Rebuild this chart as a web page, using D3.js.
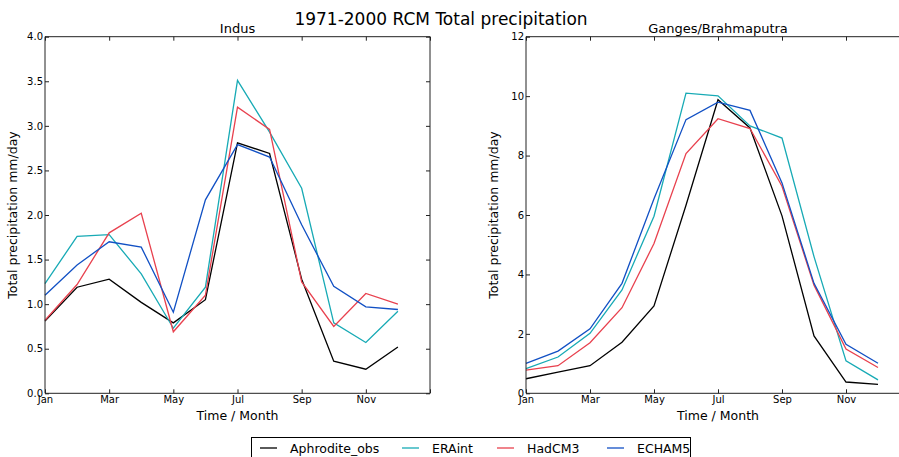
<!DOCTYPE html>
<html>
<head>
<meta charset="utf-8">
<script src="https://cdn.jsdelivr.net/npm/d3@7/dist/d3.min.js"></script>
<style>
  body { margin: 0; background: #fff; }
  svg { display: block; font-family: "DejaVu Sans", sans-serif; }
</style>
</head>
<body>
<div id="chart"></div>
<script>
// month labels (only every second month is labelled on the axis)
const months = ['Jan', 'Feb', 'Mar', 'Apr', 'May', 'Jun', 'Jul', 'Aug', 'Sep', 'Oct', 'Nov', 'Dec'];
const seriesNames = ['Aphrodite_obs', 'ERAint', 'HadCM3', 'ECHAM5'];

// Indus, mm/day
const indusObs    = [0.81, 1.19, 1.28, 1.02, 0.79, 1.05, 2.81, 2.69, 1.28, 0.36, 0.27, 0.52];
const indusERA    = [1.23, 1.76, 1.78, 1.34, 0.73, 1.19, 3.51, 2.93, 2.30, 0.79, 0.57, 0.92];
const indusHadCM3 = [0.82, 1.22, 1.80, 2.02, 0.69, 1.10, 3.21, 2.96, 1.25, 0.75, 1.12, 1.00];
const indusECHAM5 = [1.10, 1.44, 1.70, 1.64, 0.91, 2.17, 2.79, 2.65, 1.89, 1.20, 0.97, 0.94];

// Ganges/Brahmaputra, mm/day
const gangesObs    = [0.49, 0.71, 0.93, 1.72, 2.94, 6.33, 9.88, 8.93, 5.97, 1.93, 0.38, 0.30];
const gangesERA    = [0.83, 1.22, 2.02, 3.48, 5.96, 10.10, 10.01, 9.00, 8.59, 4.60, 1.09, 0.45];
const gangesHadCM3 = [0.78, 0.93, 1.70, 2.88, 5.04, 8.07, 9.24, 8.91, 6.97, 3.64, 1.49, 0.87];
const gangesECHAM5 = [1.01, 1.42, 2.17, 3.70, 6.55, 9.21, 9.80, 9.52, 7.08, 3.70, 1.65, 1.01];

const indusTicks = [0, 0.5, 1, 1.5, 2, 2.5, 3, 3.5, 4];
const gangesTicks = [0, 2, 4, 6, 8, 10, 12];

const colors = ['#000000', '#17aab5', '#e8414e', '#1150c4'];

const width = 899, height = 457;

const svg = d3.select('#chart').append('svg')
  .attr('width', width)
  .attr('height', height);

svg.append('text')
  .attr('x', 441)
  .attr('y', 24.5)
  .attr('text-anchor', 'middle')
  .style('font-size', '17px')
  .text('1971-2000 RCM Total precipitation');

const panel = (cfg) => {
  const x = d3.scaleLinear().domain([0, 12]).range([cfg.left, cfg.right]);
  const y = d3.scaleLinear().domain([0, d3.max(cfg.ticks)]).range([cfg.bottom, cfg.top]);
  const g = svg.append('g');

  // the lines first, axes frame on top
  const line = d3.line()
    .x((d, i) => x(i))
    .y(d => y(d));

  cfg.series.forEach((s, i) => {
    g.append('path')
      .datum(s)
      .attr('d', line)
      .attr('fill', 'none')
      .attr('stroke', colors[i])
      .attr('stroke-width', 1.3)
      .attr('stroke-linejoin', 'miter');
  });

  const tickLen = 4;
  const xTicks = d3.range(0, 13, 2);

  // bottom and top axes, ticks pointing inward
  const bottom = g.append('g')
    .attr('transform', `translate(0,${cfg.bottom})`)
    .call(axisBottom(x).tickValues(xTicks).tickSize(-tickLen).tickPadding(3)
      .tickFormat(d => (d < 12 ? months[d] : '')));
  const top = g.append('g')
    .attr('transform', `translate(0,${cfg.top})`)
    .call(axisBottom(x).tickValues(xTicks).tickSize(tickLen).tickFormat(''));
  const left = g.append('g')
    .attr('transform', `translate(${cfg.left},0)`)
    .call(axisLeft(y).tickValues(cfg.ticks).tickSize(-tickLen).tickPadding(2)
      .tickFormat(cfg.fmt));
  const right = g.append('g')
    .attr('transform', `translate(${cfg.right},0)`)
    .call(axisLeft(y).tickValues(cfg.ticks).tickSize(tickLen).tickFormat(''));

  [bottom, top, left, right].forEach(a => {
    a.select('.domain').attr('stroke', '#222').attr('stroke-width', 1);
    a.selectAll('.tick line').attr('stroke', '#222');
    a.selectAll('.tick text').attr('fill', '#000').style('font-size', '10px')
      .style('font-family', '"DejaVu Sans", sans-serif');
  });
  top.select('.domain').attr('d', `M${cfg.left},0H${cfg.right}`);
  right.select('.domain').attr('d', `M0,${cfg.top}V${cfg.bottom}`);
  bottom.select('.domain').attr('d', `M${cfg.left},0H${cfg.right}`);
  left.select('.domain').attr('d', `M0,${cfg.top}V${cfg.bottom}`);

  const mid = (cfg.left + Math.min(cfg.right, x(12))) / 2;

  g.append('text')
    .attr('x', x(6))
    .attr('y', 32.5)
    .attr('text-anchor', 'middle')
    .style('font-size', '13px')
    .text(cfg.title);

  g.append('text')
    .attr('x', x(6))
    .attr('y', 420)
    .attr('text-anchor', 'middle')
    .style('font-size', '12.5px')
    .text('Time / Month');

  g.append('text')
    .attr('transform', `translate(${cfg.left - 28},${(cfg.top + cfg.bottom) / 2}) rotate(-90)`)
    .attr('text-anchor', 'middle')
    .style('font-size', '12.5px')
    .text('Total precipitation mm/day');
};

const axisBottom = d3.axisBottom;
const axisLeft = d3.axisLeft;

panel({
  title: 'Indus',
  left: 45, right: 430, top: 36.7, bottom: 393.3,
  ticks: indusTicks,
  fmt: d3.format('.1f'),
  series: [indusObs, indusERA, indusHadCM3, indusECHAM5],
});

panel({
  title: 'Ganges/Brahmaputra',
  left: 526, right: 910, top: 36.7, bottom: 393.3,
  ticks: gangesTicks,
  fmt: d3.format('d'),
  series: [gangesObs, gangesERA, gangesHadCM3, gangesECHAM5],
});

// legend, sitting below the panels and cut by the page edge
const legend = svg.append('g');
legend.append('rect')
  .attr('x', 251.5)
  .attr('y', 437.5)
  .attr('width', 439)
  .attr('height', 30)
  .attr('fill', '#fff')
  .attr('stroke', '#000')
  .attr('stroke-width', 1);

const legendX = [260, 402, 497, 607];
seriesNames.forEach((name, i) => {
  legend.append('line')
    .attr('x1', legendX[i]).attr('x2', legendX[i] + 17)
    .attr('y1', 448).attr('y2', 448)
    .attr('stroke', colors[i])
    .attr('stroke-width', 1.3);
  legend.append('text')
    .attr('x', legendX[i] + 30)
    .attr('y', 452.5)
    .style('font-size', '12.5px')
    .text(name);
});
</script>
</body>
</html>
